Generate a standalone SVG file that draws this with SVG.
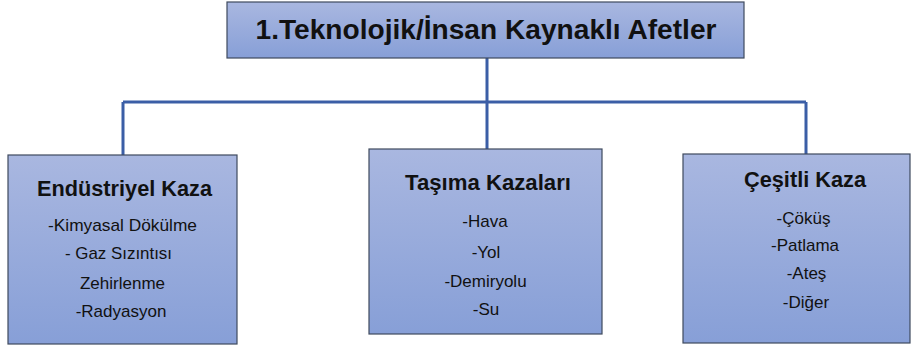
<svg xmlns="http://www.w3.org/2000/svg" width="917" height="358" viewBox="0 0 917 358">
<defs>
<linearGradient id="g" x1="0" y1="0" x2="0" y2="1">
<stop offset="0" stop-color="#a9b7e0"/>
<stop offset="1" stop-color="#879fd7"/>
</linearGradient>
<style>
.box{fill:url(#g);stroke:#3f4a5e;stroke-width:1.2}
.conn{fill:none;stroke:#3b5ea6;stroke-width:3}
text{font-family:"Liberation Sans",Arial,sans-serif;fill:#111;text-anchor:middle}
.t{font-size:27px;font-weight:bold}
.h{font-size:22px;font-weight:bold}
.i{font-size:17px}
</style>
</defs>
<g id="connectors">
<path class="conn" d="M487 58 V102 M123 102 H806 M123 102 V155 M487 102 V149 M806 102 V154"/>
</g>
<g id="root">
<rect class="box" x="227" y="2" width="517" height="56"/>
<text class="t" x="486" y="39" textLength="461" lengthAdjust="spacingAndGlyphs">1.Teknolojik/İnsan Kaynaklı Afetler</text>
</g>
<g id="endustriyel">
<rect class="box" x="8" y="155" width="229" height="189"/>
<text class="h" x="124.5" y="196" textLength="175" lengthAdjust="spacingAndGlyphs">Endüstriyel Kaza</text>
<text class="i" x="122.5" y="231" textLength="149" lengthAdjust="spacingAndGlyphs">-Kimyasal Dökülme</text>
<text class="i" x="118.5" y="259" textLength="107" lengthAdjust="spacingAndGlyphs">- Gaz Sızıntısı</text>
<text class="i" x="122.5" y="289">Zehirlenme</text>
<text class="i" x="121" y="317">-Radyasyon</text>
</g>
<g id="tasima">
<rect class="box" x="369" y="149" width="233" height="185"/>
<text class="h" x="488" y="190" textLength="166" lengthAdjust="spacingAndGlyphs">Taşıma Kazaları</text>
<text class="i" x="485" y="227">-Hava</text>
<text class="i" x="486" y="258">-Yol</text>
<text class="i" x="485.5" y="287">-Demiryolu</text>
<text class="i" x="486" y="315">-Su</text>
</g>
<g id="cesitli">
<rect class="box" x="683" y="154" width="227" height="189"/>
<text class="h" x="805" y="187" textLength="122" lengthAdjust="spacingAndGlyphs">Çeşitli Kaza</text>
<text class="i" x="803.5" y="224">-Çöküş</text>
<text class="i" x="805" y="251">-Patlama</text>
<text class="i" x="806.5" y="279">-Ateş</text>
<text class="i" x="806" y="308">-Diğer</text>
</g>
</svg>
